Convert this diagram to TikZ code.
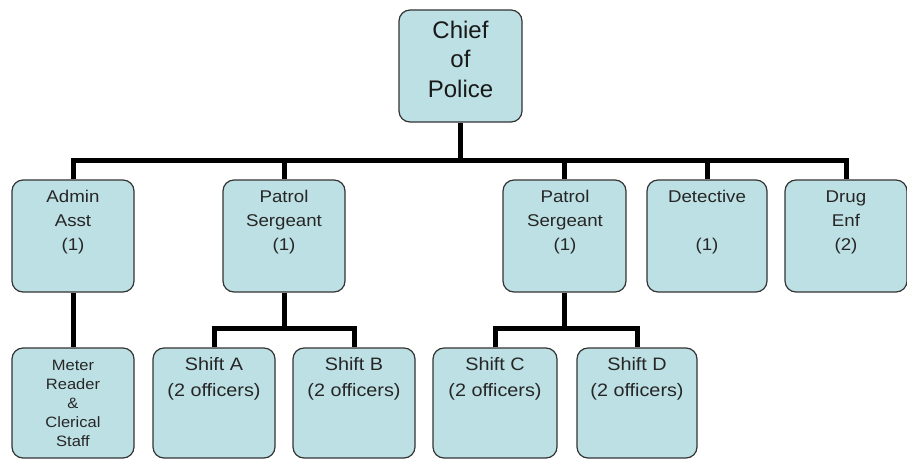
\documentclass[tikz,border=0pt]{standalone}
\usepackage{fontspec}
\setmainfont{Liberation Sans}
\newfontfamily\lvlfont[FakeStretch=1.1]{Liberation Sans}
\begin{document}
\begin{tikzpicture}[x=1pt,y=-1pt,
  box/.style={draw=black!80, line width=1.2pt, fill=boxfill, rounded corners=11pt, inner sep=0pt},
  conn/.style={line width=5pt, black, line join=miter},
  chieftxt/.style={align=center, font=\fontsize{24}{29.5}\selectfont, text=black!90},
  lvltxt/.style={align=center, font=\lvlfont\fontsize{17}{24}\selectfont, text=black!85},
  shifttxt/.style={align=center, font=\lvlfont\fontsize{18}{26}\selectfont, text=black!85},
  metertxt/.style={align=center, font=\lvlfont\fontsize{15}{19}\selectfont, text=black!85}]
\definecolor{boxfill}{HTML}{BDE0E4}
\useasboundingbox (0,0) rectangle (907,459);
% boxes
\node[box, minimum width=123pt, minimum height=112pt] (chief) at (460.5,66) {};
\node[box, minimum width=122pt, minimum height=112pt] (admin) at (73,236) {};
\node[box, minimum width=122pt, minimum height=112pt] (p1) at (284,236) {};
\node[box, minimum width=123pt, minimum height=112pt] (p2) at (564.5,236) {};
\node[box, minimum width=120pt, minimum height=112pt] (det) at (707,236) {};
\node[box, minimum width=122pt, minimum height=112pt] (drug) at (846,236) {};
\node[box, minimum width=122pt, minimum height=110pt] (meter) at (73,403) {};
\node[box, minimum width=122pt, minimum height=110pt] (sa) at (214,403) {};
\node[box, minimum width=122pt, minimum height=110pt] (sb) at (354,403) {};
\node[box, minimum width=124pt, minimum height=110pt] (sc) at (495,403) {};
\node[box, minimum width=120pt, minimum height=110pt] (sd) at (637,403) {};
% texts
\node[chieftxt] (tchief) at (460.5,59) {Chief\\of\\Police};
\node[lvltxt] (tadmin) at (73,222) {Admin\\Asst\\(1)};
\node[lvltxt] (tp1) at (284,222) {Patrol\\Sergeant\\(1)};
\node[lvltxt] (tp2) at (565,222) {Patrol\\Sergeant\\(1)};
\node[lvltxt] (tdet) at (707,222) {Detective\\\mbox{}\\(1)};
\node[lvltxt] (tdrug) at (846,222) {Drug\\Enf\\(2)};
\node[metertxt] (tmeter) at (73,403) {Meter\\Reader\\\&\\Clerical\\Staff};
\node[shifttxt] (tsa) at (214,379) {Shift A\\(2 officers)};
\node[shifttxt] (tsb) at (354,379) {Shift B\\(2 officers)};
\node[shifttxt] (tsc) at (495,379) {Shift C\\(2 officers)};
\node[shifttxt] (tsd) at (637,379) {Shift D\\(2 officers)};
% connectors
\coordinate (bar) at (0,160);
\coordinate (sub) at (0,328);
\draw[conn] (chief.south) -- (chief.south |- bar);
\draw[conn] (admin.north) -- (admin.north |- bar) -| (drug.north);
\draw[conn] (p1.north) -- (p1.north |- bar);
\draw[conn] (p2.north) -- (p2.north |- bar);
\draw[conn] (det.north) -- (det.north |- bar);
\draw[conn] (admin.south) -- (meter.north);
\draw[conn] (p1.south) -- (p1.south |- sub);
\draw[conn] (sa.north) -- (sa.north |- sub) -| (sb.north);
\draw[conn] (p2.south) -- (p2.south |- sub);
\draw[conn] (sc.north) -- (sc.north |- sub) -| (sd.north);
\end{tikzpicture}
\end{document}
